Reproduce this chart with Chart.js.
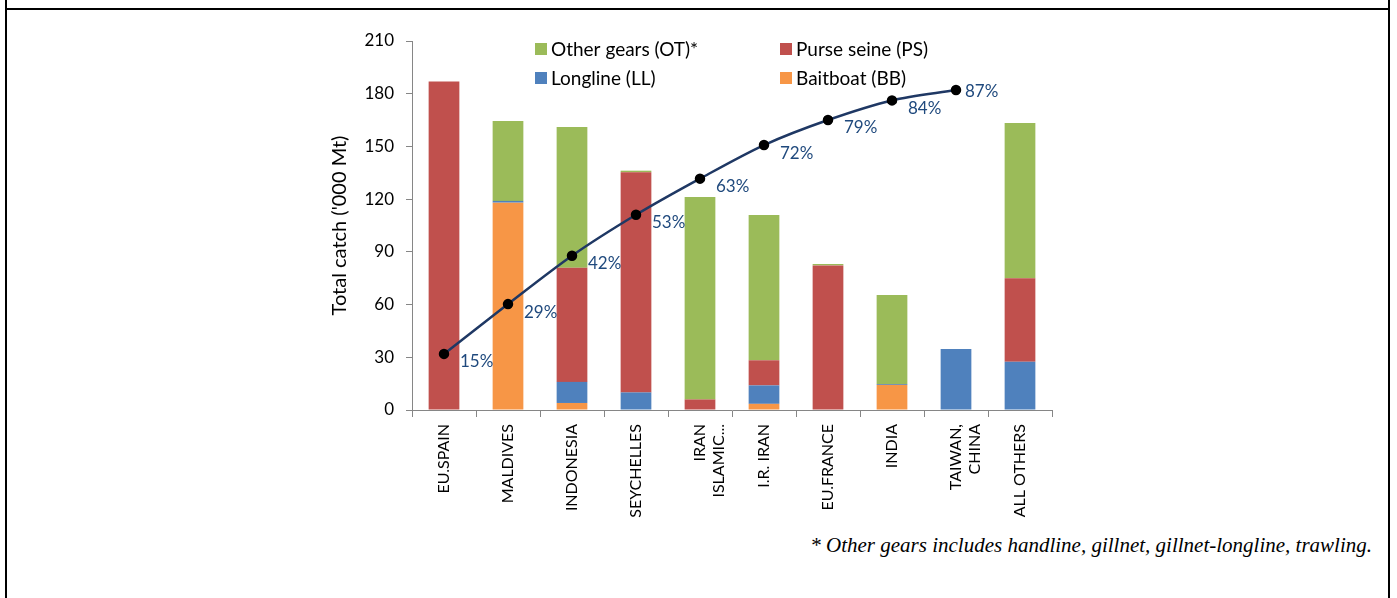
<!DOCTYPE html>
<html>
<head>
<meta charset="utf-8">
<script src="https://cdn.jsdelivr.net/npm/chart.js@4.4.1/dist/chart.umd.min.js"></script>
<style>
  html, body { margin: 0; padding: 0; background: #fff; }
  body { width: 1397px; height: 598px; position: relative; overflow: hidden; }
  .rule { position: absolute; background: #000; }
  #wrap { position: absolute; left: 300px; top: 0; width: 760px; height: 530px; }
  #note {
    position: absolute; right: 25px; top: 532px; line-height: 26px;
    font-family: "Liberation Serif", serif; font-style: italic; font-size: 21px; color: #000;
    white-space: nowrap;
  }
</style>
</head>
<body>
<div class="rule" style="left:5px;top:0;width:2px;height:598px"></div>
<div class="rule" style="left:1388px;top:0;width:2px;height:598px"></div>
<div class="rule" style="left:5px;top:8px;width:1385px;height:2px"></div>
<div id="wrap"><canvas id="chart"></canvas></div>
<div id="note">* Other gears includes handline, gillnet, gillnet-longline, trawling.</div>
<script>
// catch by fleet, '000 t
const fleets = ['EU.SPAIN', 'MALDIVES', 'INDONESIA', 'SEYCHELLES', ['IRAN', 'ISLAMIC...'],
  'I.R. IRAN', 'EU.FRANCE', 'INDIA', ['TAIWAN,', 'CHINA'], 'ALL OTHERS'];
const baitboat  = [0, 118, 4, 0, 0, 3.5, 0, 14.3, 0, 0];
const longline  = [0, 1, 12, 10, 0, 10.5, 0, 0.5, 34.7, 27.5];
const purseSeine = [187, 0, 65, 125.3, 6, 14.3, 82.3, 0, 0, 47.5];
const otherGears = [0, 45.5, 80, 0.9, 115.2, 82.7, 0.8, 50.6, 0, 88.3];
// cumulative share of total catch (%)
const cumulative = [15.2, 28.7, 41.8, 52.9, 62.7, 71.8, 78.6, 83.9, 86.7, null];
const yTicks = [0, 30, 60, 90, 120, 150, 180, 210];

const FONT = 'Lato';

const legendItems = [
  { text: 'Other gears (OT)*', color: '#9BBB59', col: 0, row: 0 },
  { text: 'Purse seine (PS)', color: '#C0504D', col: 1, row: 0 },
  { text: 'Longline (LL)', color: '#4F81BD', col: 0, row: 1 },
  { text: 'Baitboat (BB)', color: '#F79646', col: 1, row: 1 }
];

// legend in two columns inside the plot
const boxLegend = {
  id: 'boxLegend',
  afterDraw(chart) {
    const ctx = chart.ctx;
    const left = chart.chartArea.left;
    ctx.save();
    ctx.font = '19px ' + FONT;
    ctx.textBaseline = 'middle';
    ctx.textAlign = 'left';
    legendItems.forEach(it => {
      const x = left + 123 + it.col * 245;
      const y = 49 + it.row * 29;
      ctx.fillStyle = it.color;
      ctx.fillRect(x, y - 6, 12, 12);
      ctx.fillStyle = '#000';
      ctx.fillText(it.text, x + 16, y + 1);
    });
    ctx.restore();
  }
};

// percentage labels beside the cumulative line
const pctLabels = {
  id: 'pctLabels',
  afterDatasetsDraw(chart) {
    const ctx = chart.ctx;
    const meta = chart.getDatasetMeta(4);
    ctx.save();
    ctx.font = '17px ' + FONT;
    ctx.fillStyle = '#1F497D';
    ctx.textAlign = 'left';
    ctx.textBaseline = 'middle';
    meta.data.forEach((pt, i) => {
      const v = cumulative[i];
      if (v == null) return;
      const last = i === 8;
      ctx.fillText(Math.round(v) + '%', pt.x + (last ? 9 : 16), pt.y + (last ? 1 : 8));
    });
    ctx.restore();
  }
};

const barCommon = { barPercentage: 1, categoryPercentage: 0.48, borderWidth: 0, yAxisID: 'y' };

new Chart(document.getElementById('chart'), {
  type: 'bar',
  data: {
    labels: fleets,
    datasets: [
      { label: 'Baitboat (BB)', data: baitboat, backgroundColor: '#F79646', order: 2, ...barCommon },
      { label: 'Longline (LL)', data: longline, backgroundColor: '#4F81BD', order: 2, ...barCommon },
      { label: 'Purse seine (PS)', data: purseSeine, backgroundColor: '#C0504D', order: 2, ...barCommon },
      { label: 'Other gears (OT)*', data: otherGears, backgroundColor: '#9BBB59', order: 2, ...barCommon },
      {
        type: 'line', label: 'Cumulative', data: cumulative, yAxisID: 'y1', order: 1,
        borderColor: '#1F3864', borderWidth: 2.5, tension: 0.3, fill: false,
        pointRadius: 4, pointBackgroundColor: '#000', pointBorderColor: '#000', spanGaps: false
      }
    ]
  },
  options: {
    responsive: true,
    maintainAspectRatio: false,
    animation: false,
    layout: { padding: { top: 41, right: 8, left: 0, bottom: 0 } },
    plugins: { legend: { display: false }, tooltip: { enabled: false } },
    scales: {
      x: {
        stacked: true,
        afterFit(s) { s.height = 120; },
        grid: { display: true, drawOnChartArea: false, offset: true, tickLength: 7, color: '#868686' },
        border: { color: '#868686' },
        ticks: { color: '#000', font: { family: FONT, size: 16 }, minRotation: 90, maxRotation: 90, autoSkip: false, padding: 7 }
      },
      y: {
        stacked: true,
        min: 0, max: 210,
        afterFit(s) { s.width = 112; },
        afterBuildTicks(s) { s.ticks = yTicks.map(v => ({ value: v })); },
        grid: { display: true, drawOnChartArea: false, tickLength: 6, color: '#868686' },
        border: { color: '#868686' },
        ticks: { color: '#000', font: { family: FONT, size: 17 }, padding: 12 },
        title: { display: true, text: "Total catch ('000 Mt)", color: '#000', font: { family: FONT, size: 20 }, padding: { top: 28 } }
      },
      y1: { display: false, min: 0, max: 100 }
    }
  },
  plugins: [boxLegend, pctLabels]
});
</script>
</body>
</html>
